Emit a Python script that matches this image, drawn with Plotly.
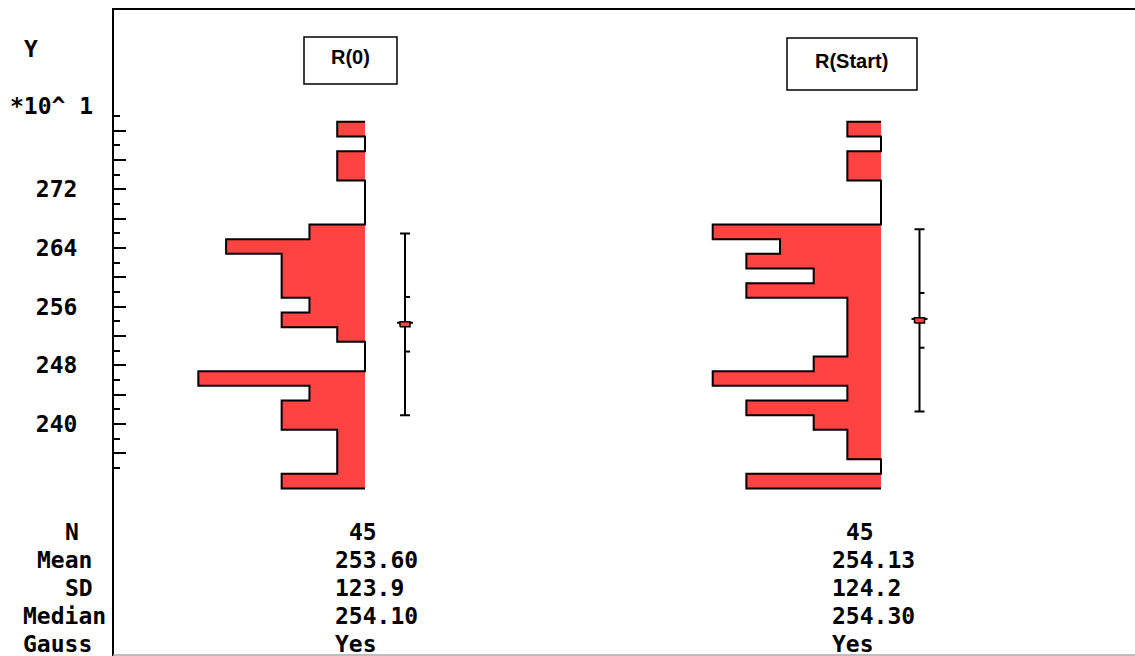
import plotly.graph_objects as go

W, H = 1135, 656

# ---- data -----------------------------------------------------------------
# histogram bins (lower edges, axis units), bottom to top; every bin is 2 wide
bin_lo = [231.2, 233.2, 235.2, 237.2, 239.2, 241.2, 243.2, 245.2, 247.2,
          249.2, 251.2, 253.2, 255.2, 257.2, 259.2, 261.2, 263.2, 265.2,
          267.2, 269.2, 271.2, 273.2, 275.2, 277.2, 279.2]
BIN_W = 2.0

groups = ["R(0)", "R(Start)"]
counts_r0 = [3, 1, 1, 1, 3, 3, 2, 6, 0, 0, 1, 3, 2, 3, 3, 3, 5, 2,
             0, 0, 0, 1, 1, 0, 1]
counts_rstart = [4, 0, 1, 1, 2, 4, 1, 5, 2, 1, 1, 1, 1, 4, 2, 4, 3, 5,
                 0, 0, 0, 1, 1, 0, 1]

n_vals = [45, 45]
mean_vals = [253.60, 254.13]
sd_vals = [123.9, 124.2]        # listed at ten times the axis scale
median_vals = [254.10, 254.30]
gauss_vals = ["Yes", "Yes"]

stat_labels = ["N", "Mean", "SD", "Median", "Gauss"]

y_major = [236, 240, 244, 248, 252, 256, 260, 264, 268, 272, 276, 280]
y_major_text = ["", "240", "", "248", "", "256", "", "264", "", "272", "", ""]
y_minor = [234, 238, 242, 246, 250, 254, 258, 262, 266, 270, 274, 278, 282]

# ---- layout geometry (pixels) ---------------------------------------------
AXIS_X = 113
TOP_Y = 8
Y240_PX = 424.0
PX_PER_UNIT = 7.334
SD_SCALE = 0.1
T95 = 2.015

panels = [
    dict(base=365.0, ppc=27.78, err_x=405.0, box=(304, 37, 397, 84),
         title_xy=(350.5, 57.0), stat_x=335.0),
    dict(base=881.0, ppc=33.66, err_x=919.5, box=(787, 38, 917, 90),
         title_xy=(851.5, 60.5), stat_x=832.0),
]
all_counts = [counts_r0, counts_rstart]

RED = "#ff4242"
MONO = dict(family="DejaVu Sans Mono", size=23, color="black", weight="bold")
CHAR_W = 13.85
ROW_Y0, ROW_DY = 532, 28


def px(x):
    return x / W


def py(y):
    return 1 - y / H


y_lo = 240 - (H - Y240_PX) / PX_PER_UNIT
y_hi = 240 + (Y240_PX - TOP_Y) / PX_PER_UNIT

fig = go.Figure()
shapes = []
annotations = []


def mono_text(text, x_px, y_px):
    return dict(text=text, x=px(x_px), y=py(y_px), xref="paper", yref="paper",
                xanchor="left", yanchor="middle", showarrow=False,
                font=MONO, borderpad=0, height=22)


for i, (p, counts) in enumerate(zip(panels, all_counts)):
    xa = "x" if i == 0 else "x2"

    def cnt(pix, p=p):
        return (p["base"] - pix) / p["ppc"]

    # step outline of the histogram, bars grow leftwards from the baseline
    xs = [0]
    ys = [bin_lo[0]]
    for lo, c in zip(bin_lo, counts):
        xs += [c, c]
        ys += [lo, lo + BIN_W]
    xs.append(0)
    ys.append(bin_lo[-1] + BIN_W)
    fig.add_trace(go.Scatter(
        x=xs, y=ys, xaxis=xa, yaxis="y", mode="lines", fill="toself",
        fillcolor=RED, line=dict(color="black", width=2), hoverinfo="skip"))

    # mean +/- SD whisker
    mean = mean_vals[i]
    sd = sd_vals[i] * SD_SCALE
    xe = cnt(p["err_x"])
    fig.add_trace(go.Scatter(
        x=[xe], y=[mean], xaxis=xa, yaxis="y", mode="markers",
        marker=dict(size=1, color="rgba(0,0,0,0)"),
        error_y=dict(type="data", array=[sd], symmetric=True,
                     color="black", thickness=2, width=5),
        hoverinfo="skip"))

    # confidence-interval ticks on the right side of the whisker
    ci = T95 * sd / n_vals[i] ** 0.5
    xr = cnt(p["err_x"] + 5)
    fig.add_trace(go.Scatter(
        x=[xe, xr, None, xe, xr], y=[mean + ci, mean + ci, None, mean - ci, mean - ci],
        xaxis=xa, yaxis="y", mode="lines",
        line=dict(color="black", width=2), hoverinfo="skip"))

    # mean marker: short bar plus small red box
    xl8, xr8 = cnt(p["err_x"] - 8), cnt(p["err_x"] + 8)
    fig.add_trace(go.Scatter(
        x=[xl8, xr8], y=[mean + 0.2, mean + 0.2], xaxis=xa, yaxis="y",
        mode="lines", line=dict(color="black", width=2), hoverinfo="skip"))
    xl5, xr5 = cnt(p["err_x"] - 5), cnt(p["err_x"] + 5)
    hh = 2.6 / PX_PER_UNIT
    fig.add_trace(go.Scatter(
        x=[xl5, xr5, xr5, xl5, xl5],
        y=[mean - hh, mean - hh, mean + hh, mean + hh, mean - hh],
        xaxis=xa, yaxis="y", mode="lines", fill="toself", fillcolor=RED,
        line=dict(color="black", width=1.5), hoverinfo="skip"))

    # group title in a box
    x0, y0, x1, y1 = p["box"]
    shapes.append(dict(type="rect", xref="paper", yref="paper",
                       x0=px(x0), x1=px(x1), y0=py(y0), y1=py(y1),
                       line=dict(color="black", width=1.5)))
    tx, ty = p["title_xy"]
    annotations.append(dict(
        text=groups[i], x=px(tx), y=py(ty), xref="paper", yref="paper",
        xanchor="center", yanchor="middle", showarrow=False,
        font=dict(family="Liberation Sans", size=20, color="black",
                  weight="bold")))

    # summary statistics column
    vals = [(1, str(n_vals[i])), (0, f"{mean_vals[i]:.2f}"),
            (0, f"{sd_vals[i]:.1f}"), (0, f"{median_vals[i]:.2f}"),
            (0, gauss_vals[i])]
    for row, (pad, v) in enumerate(vals):
        annotations.append(mono_text(v, p["stat_x"] + pad * CHAR_W - 1,
                                     ROW_Y0 + row * ROW_DY))

# statistic row labels
label_pad = [3, 1, 3, 0, 0]
for row, (lab, pad) in enumerate(zip(stat_labels, label_pad)):
    annotations.append(mono_text(lab, 23 + pad * CHAR_W - 1, ROW_Y0 + row * ROW_DY))

# axis title and exponent
annotations.append(mono_text("Y", 23, 49))
annotations.append(mono_text("*10^ 1", 9, 106))

# frame: top rule and light bottom rule
shapes.append(dict(type="line", xref="paper", yref="paper",
                   x0=px(AXIS_X), x1=1, y0=py(TOP_Y + 1), y1=py(TOP_Y + 1),
                   line=dict(color="black", width=2)))
shapes.append(dict(type="line", xref="paper", yref="paper",
                   x0=px(AXIS_X), x1=1, y0=py(655), y1=py(655),
                   line=dict(color="#a8a8a8", width=1.5)))

hidden_x = dict(visible=False, showgrid=False, zeroline=False, domain=[0, 1])
p0, p1 = panels
fig.update_layout(
    width=W, height=H,
    margin=dict(l=0, r=0, t=0, b=0, pad=0, autoexpand=False),
    paper_bgcolor="white", plot_bgcolor="white",
    showlegend=False,
    xaxis=dict(hidden_x, range=[p0["base"] / p0["ppc"], -(W - p0["base"]) / p0["ppc"]],
               anchor="y"),
    xaxis2=dict(hidden_x, range=[p1["base"] / p1["ppc"], -(W - p1["base"]) / p1["ppc"]],
                anchor="y", overlaying="x"),
    yaxis=dict(
        range=[y_lo, y_hi], domain=[0, py(TOP_Y)],
        anchor="free", position=px(AXIS_X), side="left",
        showline=True, linecolor="black", linewidth=2,
        showgrid=False, zeroline=False,
        ticks="inside", ticklen=12, tickwidth=2, tickcolor="black",
        tickmode="array", tickvals=y_major, ticktext=y_major_text,
        tickfont=MONO, ticklabelstandoff=30,
        minor=dict(tickmode="array", tickvals=y_minor, ticks="inside",
                   ticklen=6, tickwidth=2, tickcolor="black", showgrid=False),
    ),
    shapes=shapes,
    annotations=annotations,
)

fig.write_html("out.html")
